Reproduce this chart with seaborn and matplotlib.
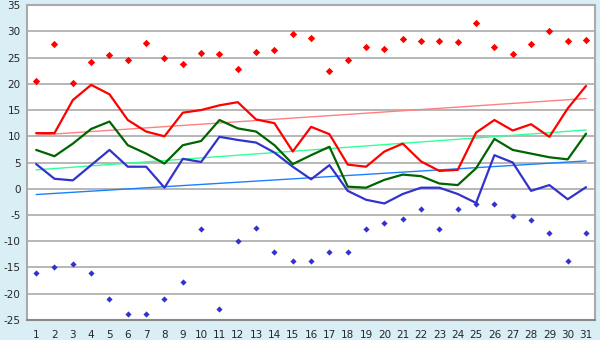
import matplotlib
matplotlib.use("Agg")
import matplotlib.pyplot as plt
import numpy as np
import pandas as pd
import seaborn as sns

days = list(range(1, 32))

# daily extremes (markers)
abs_max = [20.6, 27.5, 20.1, 24.1, 25.4, 24.5, 27.7, 25.0, 23.7, 25.8,
           25.6, 22.9, 26.0, 26.4, 29.4, 28.7, 22.4, 24.5, 27.1, 26.7,
           28.5, 28.1, 28.1, 27.9, 31.5, 27.1, 25.6, 27.5, 30.0, 28.1, 28.3]
abs_min = [-16.1, -15.0, -14.4, -16.1, -21.1, -23.9, -23.9, -21.1, -17.8, -7.7,
           -23.0, -10.0, -7.5, -12.1, -13.8, -13.8, -12.1, -12.1, -7.7, -6.6,
           -5.8, -3.9, -7.7, -3.9, -2.9, -3.0, -5.1, -6.0, -8.5, -13.8, -8.5]

# mean max / mean / mean min (lines)
t_max = [10.6, 10.6, 16.9, 19.8, 18.0, 13.1, 10.9, 10.0, 14.5, 15.0,
         15.9, 16.5, 13.2, 12.5, 7.1, 11.8, 10.4, 4.6, 4.2, 7.1,
         8.6, 5.2, 3.4, 3.6, 10.7, 13.1, 11.1, 12.3, 9.9, 15.3, 19.6]
t_mean = [7.4, 6.2, 8.6, 11.4, 12.8, 8.3, 6.7, 4.8, 8.3, 9.1,
          13.1, 11.5, 10.9, 8.3, 4.7, 6.4, 8.0, 0.4, 0.2, 1.7,
          2.7, 2.4, 1.0, 0.7, 3.9, 9.5, 7.4, 6.7, 6.0, 5.6, 10.5]
t_min = [4.7, 1.9, 1.6, 4.5, 7.4, 4.2, 4.2, 0.2, 5.7, 5.1,
         9.9, 9.3, 8.8, 6.9, 4.2, 1.8, 4.5, -0.4, -2.1, -2.8,
         -1.0, 0.2, 0.2, -1.0, -2.7, 6.4, 5.0, -0.4, 0.7, -2.0, 0.3]

# normals (start / end of month)
norm_days = [1, 31]
norm_max = [10.2, 17.2]
norm_mean = [3.6, 11.2]
norm_min = [-1.1, 5.3]

sns.set_style("white")
plt.rcParams["font.family"] = ["DejaVu Sans"]
plt.rcParams["axes.unicode_minus"] = False

bg = "#d9eff5"
fig = plt.figure(figsize=(6, 3.4), dpi=100, facecolor=bg)
ax = fig.add_axes([0.045, 0.059, 0.947, 0.926])
ax.set_facecolor("white")

for y in range(-25, 36, 5):
    ax.axhline(y, color="#aaaaaa", lw=1.2, zorder=0)

df = pd.DataFrame({"day": days, "max": t_max, "mean": t_mean, "min": t_min,
                   "amax": abs_max, "amin": abs_min})
nd = pd.DataFrame({"day": norm_days, "max": norm_max, "mean": norm_mean, "min": norm_min})

sns.lineplot(data=nd, x="day", y="max", color="#ff8080", lw=1, ax=ax)
sns.lineplot(data=nd, x="day", y="mean", color="#33ff99", lw=1, ax=ax)
sns.lineplot(data=nd, x="day", y="min", color="#1a80ff", lw=1, ax=ax)

sns.lineplot(data=df, x="day", y="max", color="#ff0000", lw=1.6, ax=ax)
sns.lineplot(data=df, x="day", y="mean", color="#006400", lw=1.6, ax=ax)
sns.lineplot(data=df, x="day", y="min", color="#3333cc", lw=1.6, ax=ax)

sns.scatterplot(data=df, x="day", y="amax", color="#ff0000", marker="D", s=14,
                linewidth=0, ax=ax, zorder=5)
sns.scatterplot(data=df, x="day", y="amin", color="#3333cc", marker="D", s=10,
                linewidth=0, ax=ax, zorder=5)

ax.set_xlim(0.5, 31.5)
ax.set_ylim(-25, 35)
ax.set_xticks(days)
ax.set_yticks(range(-25, 36, 5))
ax.set_xlabel("")
ax.set_ylabel("")
ax.tick_params(axis="x", direction="out", length=5, width=1, color="black",
               labelsize=7.5, pad=2)
ax.tick_params(axis="y", direction="out", length=3, width=1, color="#333333",
               labelsize=7.5, pad=1.5)

for side in ["top", "right", "left"]:
    ax.spines[side].set_color("#aaaaaa")
    ax.spines[side].set_linewidth(1.5)
ax.spines["bottom"].set_color("#888888")
ax.spines["bottom"].set_linewidth(1.5)

fig.savefig("out.png", dpi=100, facecolor=bg)
